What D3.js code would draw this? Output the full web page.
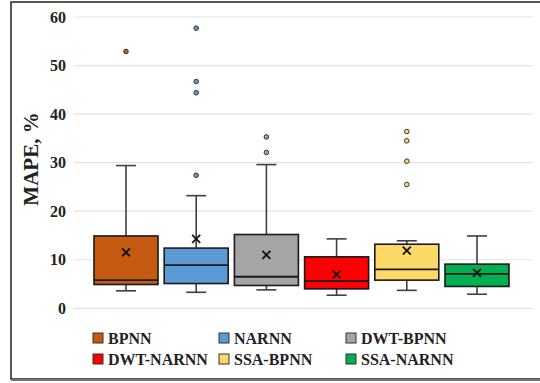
<!DOCTYPE html>
<html><head><meta charset="utf-8">
<script src="https://cdn.jsdelivr.net/npm/d3@7"></script>
<style>body{margin:0;background:#fff}svg{display:block}</style>
</head><body>
<svg id="c" width="540" height="383"></svg>
<script>
const categories = ["BPNN","NARNN","DWT-BPNN","DWT-NARNN","SSA-BPNN","SSA-NARNN"];
const colors = ["#C55A11","#5B9BD5","#A5A5A5","#FF0000","#FFD966","#00B050"];
const whiskerLow = [3.6, 3.3, 3.8, 2.7, 3.7, 2.9];
const q1 = [4.9, 5.1, 4.7, 4.0, 5.8, 4.5];
const median = [5.8, 8.9, 6.5, 5.6, 8.0, 7.1];
const q3 = [14.9, 12.4, 15.2, 10.6, 13.2, 9.1];
const whiskerHigh = [29.4, 23.2, 29.6, 14.3, 13.9, 14.9];
const means = [11.5, 14.3, 11.0, 7.0, 11.9, 7.3];
const outliers = [[52.9],[57.7,46.7,44.4,27.4],[35.3,32.1],[],[36.4,34.5,30.3,25.5],[]];
const yTicks = [0,10,20,30,40,50,60];
const yTitle = "MAPE, %";

const svg = d3.select("#c");
const font = "'Liberation Serif','Times New Roman',serif";
// frame
svg.append("rect").attr("x",11).attr("y",2).attr("width",540).attr("height",377)
  .attr("fill","none").attr("stroke","#222").attr("stroke-width",1.5);
svg.append("line").attr("x1",11).attr("x2",540).attr("y1",380).attr("y2",380)
  .attr("stroke","#777").attr("stroke-width",2);

const y = d3.scaleLinear().domain([0,60]).range([308.3,17]);
const x = d3.scalePoint().domain(categories).range([126,477]);
const boxW = 64, capW = 20;

// grid
svg.append("g").selectAll("line").data(yTicks).join("line")
  .attr("x1",74).attr("x2",533).attr("y1",d=>y(d)).attr("y2",d=>y(d))
  .attr("stroke","#e3e3e3").attr("stroke-width",1.2);
// tick labels
svg.append("g").selectAll("text").data(yTicks).join("text")
  .attr("x",66).attr("y",d=>y(d)).attr("dy","0.35em").attr("text-anchor","end")
  .attr("font-family",font).attr("font-weight","bold").attr("font-size",16)
  .attr("fill","#222").text(d=>d);
// title
svg.append("text").attr("transform","translate(38,159) rotate(-90)")
  .attr("text-anchor","middle").attr("font-family",font).attr("font-weight","bold")
  .attr("font-size",21).attr("fill","#222").text(yTitle);

const g = svg.append("g");
categories.forEach((c,i)=>{
  const cx = x(c);
  const wc = "#404040";
  g.append("line").attr("x1",cx).attr("x2",cx).attr("y1",y(q3[i])).attr("y2",y(whiskerHigh[i])).attr("stroke",wc).attr("stroke-width",1.6);
  g.append("line").attr("x1",cx).attr("x2",cx).attr("y1",y(q1[i])).attr("y2",y(whiskerLow[i])).attr("stroke",wc).attr("stroke-width",1.6);
  g.append("line").attr("x1",cx-capW/2).attr("x2",cx+capW/2).attr("y1",y(whiskerHigh[i])).attr("y2",y(whiskerHigh[i])).attr("stroke",wc).attr("stroke-width",1.6);
  g.append("line").attr("x1",cx-capW/2).attr("x2",cx+capW/2).attr("y1",y(whiskerLow[i])).attr("y2",y(whiskerLow[i])).attr("stroke",wc).attr("stroke-width",1.6);
  g.append("rect").attr("x",cx-boxW/2).attr("y",y(q3[i])).attr("width",boxW)
    .attr("height",y(q1[i])-y(q3[i])).attr("fill",colors[i]).attr("stroke","#1a1a1a").attr("stroke-width",1.6);
  g.append("line").attr("x1",cx-boxW/2).attr("x2",cx+boxW/2).attr("y1",y(median[i])).attr("y2",y(median[i]))
    .attr("stroke","#1a1a1a").attr("stroke-width",1.8);
  const my = y(means[i]), s=4;
  g.append("path").attr("d",`M${cx-s},${my-s}L${cx+s},${my+s}M${cx-s},${my+s}L${cx+s},${my-s}`)
    .attr("stroke","#111").attr("stroke-width",1.8);
  g.selectAll(null).data(outliers[i]).join("circle")
    .attr("cx",cx).attr("cy",d=>y(d)).attr("r",2.3)
    .attr("fill",colors[i]).attr("stroke","#333").attr("stroke-width",1);
});

// legend
const legX = [93,219,346], legY = [338,359];
categories.forEach((c,i)=>{
  const lx = legX[i%3], ly = legY[Math.floor(i/3)];
  svg.append("rect").attr("x",lx).attr("y",ly-5).attr("width",10).attr("height",10)
    .attr("fill",colors[i]).attr("stroke","#333").attr("stroke-width",1);
  svg.append("text").attr("x",lx+15).attr("y",ly).attr("dy","0.35em")
    .attr("font-family",font).attr("font-weight","bold").attr("font-size",16)
    .attr("fill","#222").text(c);
});
</script>
</body></html>
